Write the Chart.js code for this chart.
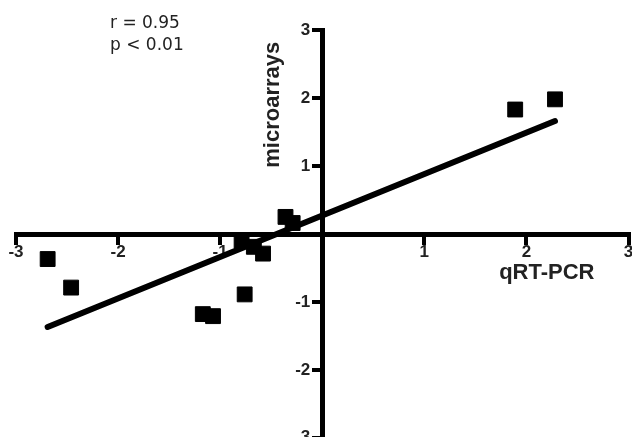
<!DOCTYPE html>
<html>
<head>
<meta charset="utf-8">
<script src="https://cdn.jsdelivr.net/npm/chart.js@4"></script>
<style>
  html, body { margin: 0; padding: 0; background: #fff; overflow: hidden; }
  #wrap { width: 632px; height: 437px; overflow: hidden; }
</style>
</head>
<body>
<div id="wrap"><canvas id="corrChart" width="640" height="452"></canvas></div>
<script>
// qRT-PCR vs microarray fold changes (log scale)
const qrtPcr = [-2.69, -2.46, -0.79, -0.67, -0.58, -0.76, -1.17, -1.07, -0.36, -0.29, 1.89, 2.28];
const microarrays = [-0.37, -0.79, -0.10, -0.19, -0.29, -0.89, -1.18, -1.21, 0.25, 0.16, 1.83, 1.98];

// regression line end points
const fitX = [-2.69, 2.28];
const fitY = [-1.37, 1.66];

const statsText = ['r = 0.95', 'p < 0.01'];

const points = qrtPcr.map((x, i) => ({ x: x, y: microarrays[i] }));
const fitLine = fitX.map((x, i) => ({ x: x, y: fitY[i] }));

Chart.defaults.font.family = '"Liberation Sans Narrow", "Liberation Sans", Arial, sans-serif';

const labelsPlugin = {
    id: 'labels',
    afterDraw(chart) {
        const ctx = chart.ctx;
        const xs = chart.scales.x;
        const ys = chart.scales.y;
        ctx.save();
        ctx.fillStyle = '#222';

        // stats
        ctx.font = '17px "DejaVu Sans", Verdana, sans-serif';
        ctx.textAlign = 'left';
        ctx.textBaseline = 'alphabetic';
        ctx.fillText(statsText[0], 110, 28);
        ctx.fillText(statsText[1], 110, 50);

        // x axis title
        ctx.font = 'bold 22px "Liberation Sans", Arial, sans-serif';
        ctx.textAlign = 'center';
        ctx.fillText('qRT-PCR', xs.getPixelForValue(2.2), ys.getPixelForValue(0) + 45);

        // y axis title
        ctx.translate(xs.getPixelForValue(0) - 43, ys.getPixelForValue(1.9));
        ctx.rotate(-Math.PI / 2);
        ctx.fillText('microarrays', 0, 0);
        ctx.restore();
    }
};

new Chart(document.getElementById('corrChart'), {
    type: 'scatter',
    data: {
        datasets: [
            {
                type: 'line',
                label: 'fit',
                data: fitLine,
                borderColor: '#000',
                borderWidth: 6,
                borderCapStyle: 'round',
                pointRadius: 0,
                fill: false
            },
            {
                label: 'genes',
                data: points,
                pointStyle: 'rect',
                pointRadius: 10.5,
                pointHoverRadius: 10.5,
                backgroundColor: '#000',
                borderColor: '#000',
                borderWidth: 1
            }
        ]
    },
    options: {
        responsive: false,
        animation: false,
        events: [],
        layout: { padding: { left: 16, right: 0, top: 30, bottom: 6 } },
        plugins: {
            legend: { display: false },
            tooltip: { enabled: false }
        },
        scales: {
            x: {
                type: 'linear',
                position: 'center',
                min: -3,
                max: 3,
                border: { display: true, color: '#000', width: 5 },
                grid: { drawOnChartArea: false, drawTicks: true, tickLength: 8, lineWidth: 4, color: '#000' },
                ticks: {
                    stepSize: 1,
                    maxRotation: 0,
                    color: '#222',
                    font: { size: 17, weight: 'bold' },
                    padding: 0,
                    callback: (v) => v === 0 ? '' : v
                }
            },
            y: {
                type: 'linear',
                position: 'center',
                min: -3,
                max: 3,
                border: { display: true, color: '#000', width: 5 },
                grid: { drawOnChartArea: false, drawTicks: true, tickLength: 8, lineWidth: 4, color: '#000' },
                ticks: {
                    stepSize: 1,
                    color: '#222',
                    font: { size: 17, weight: 'bold' },
                    padding: 4,
                    callback: (v) => v === 0 ? '' : v
                }
            }
        }
    },
    plugins: [labelsPlugin]
});
</script>
</body>
</html>
